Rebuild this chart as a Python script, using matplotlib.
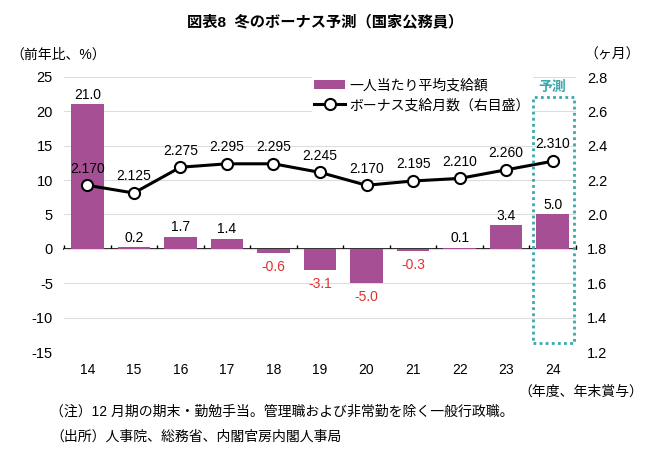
import matplotlib.pyplot as plt
from matplotlib.patches import Rectangle
import numpy as np

plt.rcParams['font.family'] = ['Liberation Sans', 'Noto Sans CJK JP', 'DejaVu Sans']

years = ['14', '15', '16', '17', '18', '19', '20', '21', '22', '23', '24']
pay_change = [21.0, 0.2, 1.7, 1.4, -0.6, -3.1, -5.0, -0.3, 0.1, 3.4, 5.0]
bonus_months = [2.170, 2.125, 2.275, 2.295, 2.295, 2.245, 2.170, 2.195, 2.210, 2.260, 2.310]
left_ticks = [25, 20, 15, 10, 5, 0, -5, -10, -15]
right_ticks = [2.8, 2.6, 2.4, 2.2, 2.0, 1.8, 1.6, 1.4, 1.2]

bar_color = '#A64F95'
teal = '#3AA8A8'
red = '#E0302F'

fig = plt.figure(figsize=(6.5, 4.69), dpi=100)
ax = fig.add_axes([64 / 650, 1 - 352 / 469, 512 / 650, 275 / 469])
x = np.arange(len(years))

# bars (left axis)
ax.bar(x, pay_change, width=0.7, color=bar_color, zorder=2, label='一人当たり平均支給額')
for xi, v in zip(x, pay_change):
    if v >= 0:
        ax.annotate(f'{v:.1f}', (xi, v), xytext=(0, 2), textcoords='offset points',
                    ha='center', va='bottom', fontsize=10)
    else:
        ax.annotate(f'{v:.1f}', (xi, v), xytext=(0, -5), textcoords='offset points',
                    ha='center', va='top', fontsize=10, color=red)

ax.set_ylim(-15, 25)
ax.set_xlim(-0.5, len(years) - 0.5)
ax.set_yticks(left_ticks)
ax.set_yticklabels([str(t) for t in left_ticks])
ax.yaxis.grid(True, color='#DDDDDD', linewidth=0.8, zorder=0)
ax.set_axisbelow(True)
for s in ax.spines.values():
    s.set_visible(False)
ax.tick_params(axis='y', length=0, labelsize=10.5, pad=8)
ax.set_xticks(x)
ax.set_xticklabels(years)
ax.tick_params(axis='x', length=0, labelsize=10, pad=8)

# zero line with small boundary ticks
zero_ax = ax.secondary_xaxis(15 / 40)
zero_ax.spines['bottom'].set_linewidth(1.2)
zero_ax.set_xticks(np.arange(-0.5, len(years), 1.0))
zero_ax.tick_params(direction='in', length=3, width=1, labelbottom=False)

# line (right axis)
ax2 = ax.twinx()
ax2.plot(x, bonus_months, color='black', linewidth=2.2, marker='o', markersize=8,
         markerfacecolor='white', markeredgecolor='black', markeredgewidth=1.5,
         zorder=3, label='ボーナス支給月数（右目盛）')
for xi, v in zip(x, bonus_months):
    ax2.annotate(f'{v:.3f}', (xi, v), xytext=(0, 7), textcoords='offset points',
                 ha='center', va='bottom', fontsize=10)
ax2.set_ylim(1.2, 2.8)
ax2.set_yticks(right_ticks)
ax2.set_yticklabels([f'{t:.1f}' for t in right_ticks])
for s in ax2.spines.values():
    s.set_visible(False)
ax2.tick_params(axis='y', length=0, labelsize=10.5, pad=8)

# legend
h1, l1 = ax.get_legend_handles_labels()
h2, l2 = ax2.get_legend_handles_labels()
leg = ax2.legend(h1 + h2, l1 + l2, loc='upper left', bbox_to_anchor=(0.47, 1.03),
                 frameon=True, fontsize=10, handlelength=2.2, handletextpad=0.3,
                 labelspacing=0.4, borderpad=0.2)
leg.get_frame().set_edgecolor('white')
leg.get_frame().set_facecolor('white')
leg.get_frame().set_alpha(1)

# forecast box, drawn above the legend
box = Rectangle((len(years) - 1.43, -13.7), 0.89, 35.8, fill=False, edgecolor=teal,
                linestyle=(0, (1, 1.2)), linewidth=2, zorder=6, clip_on=False,
                transform=ax.transData)
ax2.add_patch(box)
ax2.text(len(years) - 1, 22.6, '予測', color=teal, fontsize=10, fontweight='bold',
         ha='center', va='bottom', transform=ax.transData, zorder=6)

# titles and notes
fig.text(0.5, 1 - 22 / 469, '図表8  冬のボーナス予測（国家公務員）', ha='center', va='center',
         fontsize=11, fontweight='bold')
fig.text(10 / 650, 1 - 55 / 469, '（前年比、%）', ha='left', va='center', fontsize=10)
fig.text(640 / 650, 1 - 55 / 469, '（ヶ月）', ha='right', va='center', fontsize=10)
fig.text(643 / 650, 1 - 392 / 469, '（年度、年末賞与）', ha='right', va='center', fontsize=10)
fig.text(50 / 650, 1 - 412 / 469, '（注）12 月期の期末・勤勉手当。管理職および非常勤を除く一般行政職。',
         ha='left', va='center', fontsize=10)
fig.text(50 / 650, 1 - 437 / 469, '（出所）人事院、総務省、内閣官房内閣人事局',
         ha='left', va='center', fontsize=10)

fig.savefig('out.png', dpi=100)
